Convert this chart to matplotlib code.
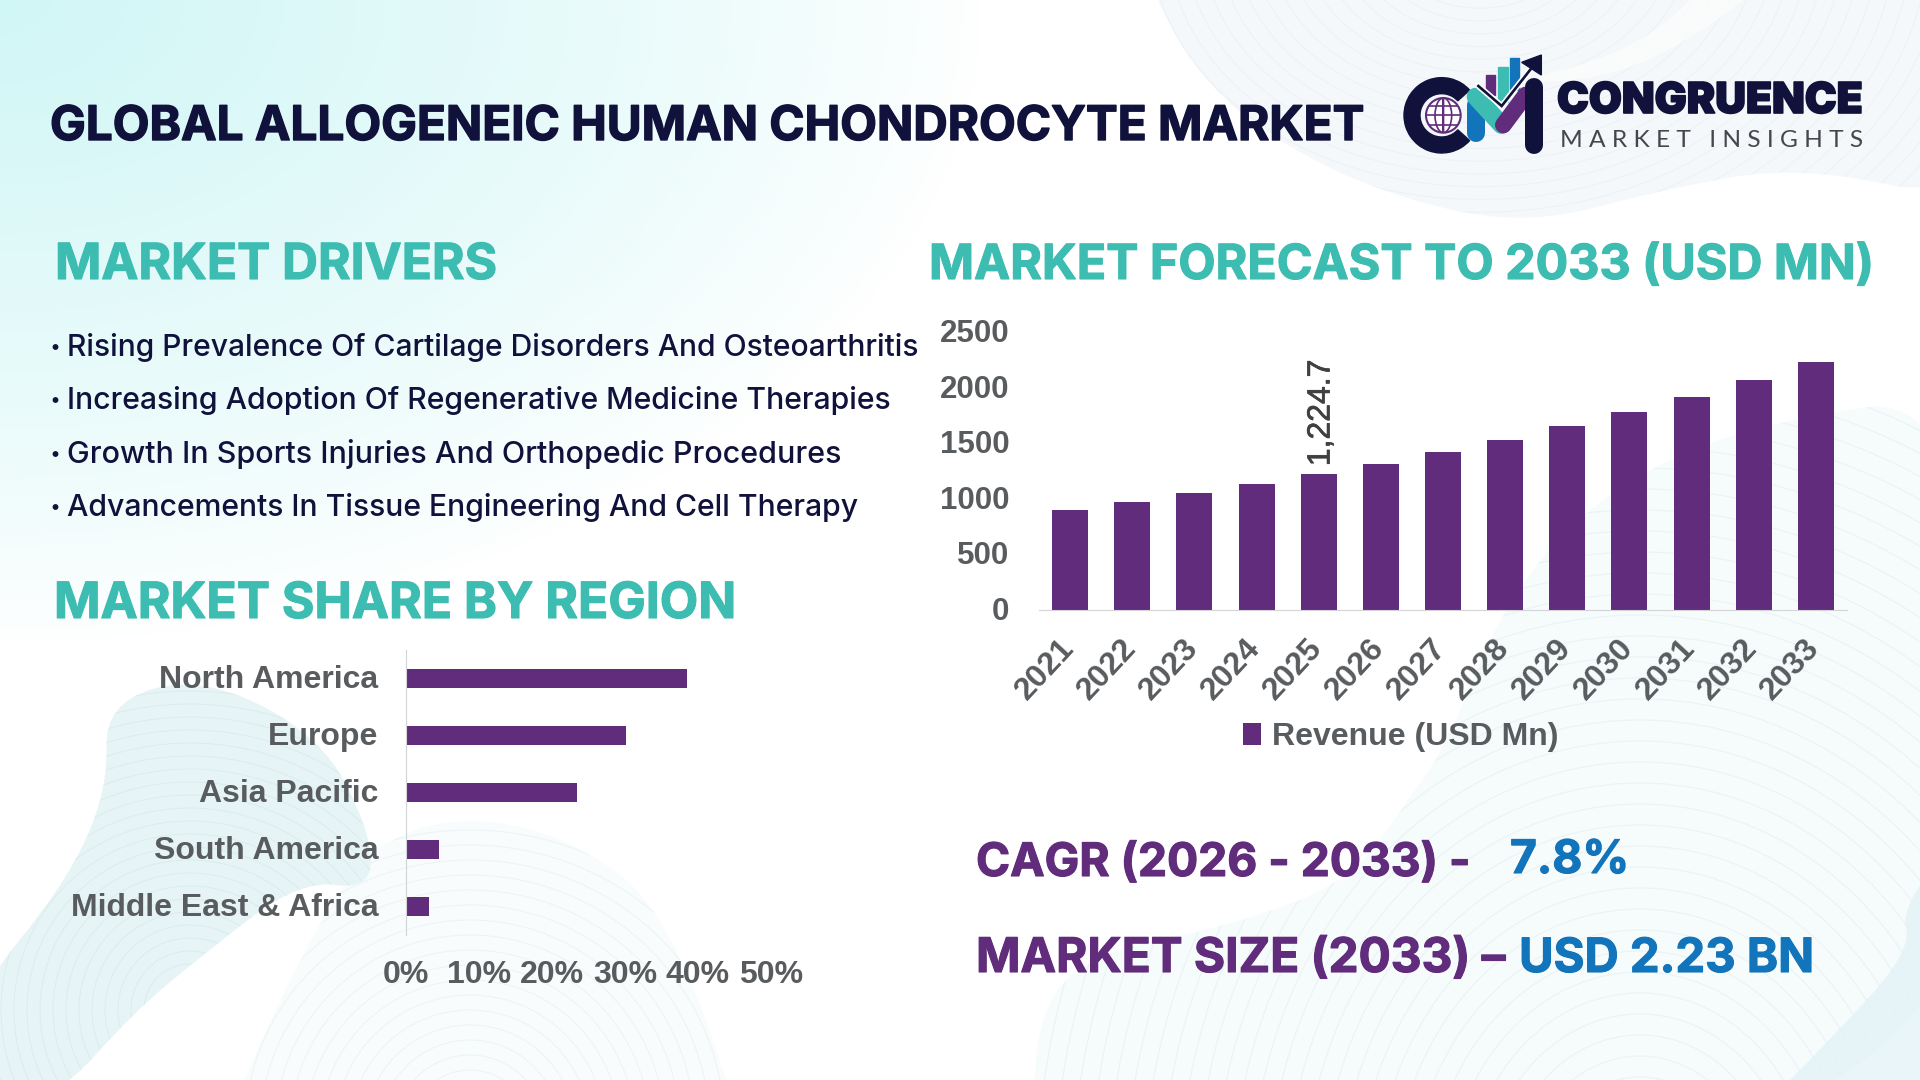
import numpy as np
import matplotlib
matplotlib.use('Agg')
import matplotlib.pyplot as plt
import matplotlib.patheffects as pe
from matplotlib.path import Path
from matplotlib.patches import PathPatch, Circle, Wedge, Ellipse, Rectangle, Polygon
from matplotlib.transforms import ScaledTranslation

# ------------------------------------------------------------
# Data
years = ['2021', '2022', '2023', '2024', '2025', '2026', '2027',
         '2028', '2029', '2030', '2031', '2032', '2033']
revenue = [899, 971, 1052, 1133, 1224.7, 1313, 1421, 1529, 1655, 1781, 1916, 2068, 2230]
regions = ['North America', 'Europe', 'Asia Pacific', 'South America', 'Middle East & Africa']
region_share = [38.5, 30.1, 23.4, 4.5, 3.2]
share_ticks = [0, 10, 20, 30, 40, 50]
rev_ticks = [0, 500, 1000, 1500, 2000, 2500]
drivers = ['Rising Prevalence Of Cartilage Disorders And Osteoarthritis',
           'Increasing Adoption Of Regenerative Medicine Therapies',
           'Growth In Sports Injuries And Orthopedic Procedures',
           'Advancements In Tissue Engineering And Cell Therapy']

PURPLE = '#612c7b'
TEAL = '#3dbdb1'
BLUE = '#1274ba'
NAVY = '#10123c'
GREY = '#595c5e'
HEAD_FONT = ['Inter', 'DejaVu Sans']
CHART_FONT = ['Liberation Sans', 'DejaVu Sans']

fig = plt.figure(figsize=(19.2, 10.8), dpi=100)
renderer = fig.canvas.get_renderer()

# full figure layer in pixel coordinates, y pointing down
bg = fig.add_axes([0, 0, 1, 1], zorder=0)
bg.set_xlim(0, 1920)
bg.set_ylim(1080, 0)
bg.axis('off')

# cyan glow in the top left corner
yy, xx = np.mgrid[0:1080:4, 0:1920:4]
fade = np.clip(1 - np.sqrt((xx / 980.0) ** 2 + (yy / 640.0) ** 2), 0, 1) ** 0.8
glow = np.ones(xx.shape + (3,))
glow[..., 0] = 1 - 0.18 * fade
glow[..., 1] = 1 - 0.035 * fade
glow[..., 2] = 1 - 0.035 * fade
bg.imshow(glow, extent=[0, 1920, 1080, 0], aspect='auto', zorder=0)


def smooth_patch(points, color, alpha=1.0, z=1):
    # closed quadratic spline through the midpoints of the points
    pts = np.array(points, dtype=float)
    mids = (pts + np.roll(pts, -1, axis=0)) / 2
    verts = [mids[-1]]
    codes = [Path.MOVETO]
    for p, m in zip(pts, mids):
        verts += [p, m]
        codes += [Path.CURVE3, Path.CURVE3]
    patch = PathPatch(Path(verts, codes), facecolor=color, edgecolor='none', alpha=alpha, zorder=z)
    bg.add_patch(patch)
    return patch


def ripple(patch, cx, cy, radii, color, lw=0.8, sx=1.0, sy=1.0):
    # concentric thin rings, only visible inside the ribbon shape
    for r in radii:
        ring = Ellipse((cx, cy), 2 * r * sx, 2 * r * sy, fill=False, edgecolor=color, linewidth=lw, zorder=patch.get_zorder() + 0.1)
        bg.add_patch(ring)
        ring.set_clip_path(patch)


# top right ribbon
top = smooth_patch([(1130, -60), (1190, 70), (1280, 145), (1400, 200), (1530, 225), (1660, 190),
                    (1800, 165), (1980, 205), (1980, -60)], '#f5f8fa')
ripple(top, 1480, -60, np.arange(40, 560, 17), '#eef2f5', sy=0.75)
smooth_patch([(1730, -40), (1640, 50), (1500, 85), (1640, 75), (1800, -40)], '#ffffff', alpha=0.6, z=1.3)

# bottom right ribbon
right = smooth_patch([(1990, 390), (1740, 425), (1590, 500), (1500, 610), (1450, 740), (1405, 805),
                      (1352, 880), (1235, 925), (1085, 955), (1035, 1020), (1035, 1150), (1990, 1150)], '#f6fbfc')
ripple(right, 1640, 1200, np.arange(60, 900, 21), '#ebf3f5', sx=0.85)
smooth_patch([(1990, 800), (1900, 905), (1912, 950), (1830, 1040), (1750, 1120), (1990, 1120)], '#e0f2f6', alpha=0.7, z=1.4)

# bottom left ribbon and pale fan
fan = smooth_patch([(150, 1300), (330, 880), (430, 815), (560, 830), (680, 920), (790, 1300)], '#f8fcfc')
ripple(fan, 470, 1130, np.arange(30, 340, 15), '#eef4f5')
left = smooth_patch([(-30, 1000), (65, 885), (108, 790), (105, 703), (200, 675), (320, 735), (370, 830),
                     (372, 890), (300, 880), (200, 957), (133, 1013), (55, 1100), (-30, 1110)], '#e6f4f6')
ripple(left, 190, 1010, np.arange(20, 420, 13), '#d9ecf0', lw=0.7)


def fit_text(x0, x1, baseline, s, color, weight='bold', family=HEAD_FONT, size=30, heavy=0.0):
    # real text, font size chosen so it spans x0..x1 like the reference
    t = bg.text(x0, baseline, s, color=color, fontweight=weight, family=family, fontsize=size,
                ha='left', va='baseline', zorder=6)
    w = t.get_window_extent(renderer).width
    t.set_fontsize(size * (x1 - x0) / w)
    if heavy:
        # the reference face is heavier than the installed one
        t.set_path_effects([pe.withStroke(linewidth=heavy, foreground=color)])
    return t


def nudge(labels, dx, dy):
    # shift tick labels by a few pixels, y up
    off = ScaledTranslation(dx / 100.0, dy / 100.0, fig.dpi_scale_trans)
    for lab in labels:
        lab.set_transform(lab.get_transform() + off)


# ------------------------------------------------------------
# Headlines and text blocks
fit_text(50, 1364, 140, 'GLOBAL ALLOGENEIC HUMAN CHONDROCYTE MARKET', NAVY, heavy=1.0)
fit_text(55, 497, 279, 'MARKET DRIVERS', TEAL, heavy=0.8)
fit_text(929, 1873, 279, 'MARKET FORECAST TO 2033 (USD MN)', TEAL, heavy=0.8)
fit_text(54, 736, 618, 'MARKET SHARE BY REGION', TEAL, heavy=0.8)

driver_rows = [356, 409, 463, 516]
driver_ends = [921, 894, 842, 861]
for txt, base, end in zip(drivers, driver_rows, driver_ends):
    bg.add_patch(Circle((55.5, base - 9), 2.2, color=NAVY, zorder=6))
    fit_text(67, end, base, txt, NAVY, weight=500)

fit_text(976, 1470, 876, 'CAGR (2026 - 2033) -', PURPLE, heavy=0.8)
fit_text(1510, 1629, 873, '7.8%', BLUE, heavy=0.8)
fit_text(976, 1505, 972, 'MARKET SIZE (2033) \u2013', PURPLE, heavy=0.8)
fit_text(1519, 1814, 972, 'USD 2.23 BN', BLUE, heavy=0.8)

# ------------------------------------------------------------
# Logo, positions taken from a 3x crop starting at (1380, 30)
def lx(x, y):
    return 1380 + x / 3.0, 30 + y / 3.0


def stroke(p0, p1, color, width, cap='round', z=5):
    a, b = lx(*p0), lx(*p1)
    bg.plot([a[0], b[0]], [a[1], b[1]], color=color, lw=width * 0.24, solid_capstyle=cap, zorder=z)


def logo_bar(x0, x1, y0, y1, color):
    a, b = lx(x0, y0), lx(x1, y1)
    bg.add_patch(Rectangle(a, b[0] - a[0], b[1] - a[1], color=color, zorder=4.5))


bg.add_patch(Wedge(lx(185, 256), 113 / 3.0, 42, 318, width=48 / 3.0, color=NAVY, zorder=4))
globe = Circle(lx(190, 256), 52 / 3.0, facecolor='white', edgecolor=PURPLE, lw=1.5, zorder=4.2)
bg.add_patch(globe)
for w in [0, 50]:
    e = Ellipse(lx(190, 256), w / 3.0, 104 / 3.0, fill=False, edgecolor=PURPLE, lw=1.2, zorder=4.3)
    bg.add_patch(e)
    e.set_clip_path(globe)
for dy in [-28, 0, 28]:
    ln, = bg.plot([lx(130, 0)[0], lx(250, 0)[0]], [lx(0, 256 + dy)[1]] * 2, color=PURPLE, lw=1.2, zorder=4.3)
    ln.set_clip_path(globe)

logo_bar(317, 345, 135, 195, PURPLE)
logo_bar(353, 383, 110, 215, TEAL)
logo_bar(390, 417, 83, 180, BLUE)
stroke((287, 225), (287, 310), BLUE, 54, z=4.6)
stroke((287, 200), (365, 285), TEAL, 54, z=4.7)
stroke((370, 285), (437, 195), PURPLE, 50, z=4.7)
stroke((463, 170), (463, 345), NAVY, 54, z=4.8)
# arrow with a white halo
for col, wid in [('white', 18), (NAVY, 8)]:
    pts = [lx(295, 168), lx(365, 228), lx(458, 110)]
    bg.plot([p[0] for p in pts], [p[1] for p in pts], color=col, lw=wid * 0.24, zorder=4.9, solid_joinstyle='miter')
bg.add_patch(Polygon([lx(425, 97), lx(484, 75), lx(484, 135)], color=NAVY, zorder=5))

fit_text(1557, 1863, 113, 'CONGRUENCE', NAVY, weight=900, heavy=1.2)
fit_text(1560, 1861, 147, '\u2009\u2009'.join('MARKET') + '\u2003' + '\u2009\u2009'.join('INSIGHTS'), '#44484c',
         weight='normal', family=['Lato', 'DejaVu Sans'])

# ------------------------------------------------------------
# Revenue bars, axes box placed in pixels
ax = fig.add_axes([1039 / 1920, (1080 - 610) / 1080, 808 / 1920, 278 / 1080], zorder=3)
ax.patch.set_alpha(0)
x = np.arange(len(years))
bars = ax.bar(x, revenue, width=0.58, color=PURPLE, label='Revenue (USD Mn)')
ax.set_xlim(-0.5, len(years) - 0.5)
ax.set_ylim(0, 2500)
ax.set_yticks(rev_ticks)
ax.set_xticks(x)
ax.set_xticklabels(years, rotation=47, ha='right', rotation_mode='anchor')
ax.tick_params(axis='both', length=0, labelcolor=GREY, labelsize=22.5)
ax.tick_params(axis='y', pad=21.5)
ax.tick_params(axis='x', pad=17, labelsize=23)
for lab in ax.get_xticklabels() + ax.get_yticklabels():
    lab.set_family(CHART_FONT)
    lab.set_fontweight('bold')
nudge(ax.get_xticklabels(), -12, 0)
nudge(ax.get_yticklabels(), 0, 1.5)
for side in ['top', 'right', 'left']:
    ax.spines[side].set_visible(False)
ax.spines['bottom'].set_color('#d4d4d8')
data_label = ax.annotate(f'{revenue[4]:,.1f}', (x[4], revenue[4]), xytext=(2, 5.5), textcoords='offset points',
                         rotation=90, ha='center', va='bottom', fontsize=23, color='#404040', family=CHART_FONT)
data_label.set_path_effects([pe.withStroke(linewidth=0.5, foreground='#404040')])
ax.legend(loc='center', bbox_to_anchor=(1401 / 1920, (1080 - 737) / 1080), bbox_transform=fig.transFigure,
          frameon=False, handlelength=0.55, handleheight=0.7, handletextpad=0.35, borderpad=0,
          prop={'family': CHART_FONT, 'weight': 'bold', 'size': 23}, labelcolor=GREY)

# Regional share bars
ax2 = fig.add_axes([406 / 1920, (1080 - 935) / 1080, 365 / 1920, 285 / 1080], zorder=3)
ax2.patch.set_alpha(0)
ypos = np.arange(len(regions))
ax2.barh(ypos, region_share, height=0.35, color=PURPLE)
ax2.set_ylim(len(regions) - 0.5, -0.5)
ax2.set_xlim(0, 50)
ax2.set_yticks(ypos)
ax2.set_yticklabels(regions)
ax2.set_xticks(share_ticks)
ax2.set_xticklabels([f'{v}%' for v in share_ticks])
ax2.tick_params(axis='both', length=0, labelcolor=GREY, labelsize=23)
ax2.tick_params(axis='y', pad=20)
ax2.tick_params(axis='x', pad=19)
for lab in ax2.get_xticklabels() + ax2.get_yticklabels():
    lab.set_family(CHART_FONT)
    lab.set_fontweight('bold')
nudge(ax2.get_yticklabels(), 0, 2)
nudge(ax2.get_xticklabels(), 0, 1)
for side in ['top', 'right', 'bottom']:
    ax2.spines[side].set_visible(False)
ax2.spines['left'].set_color('#d4d4d8')

fig.savefig('out.png', dpi=100)
